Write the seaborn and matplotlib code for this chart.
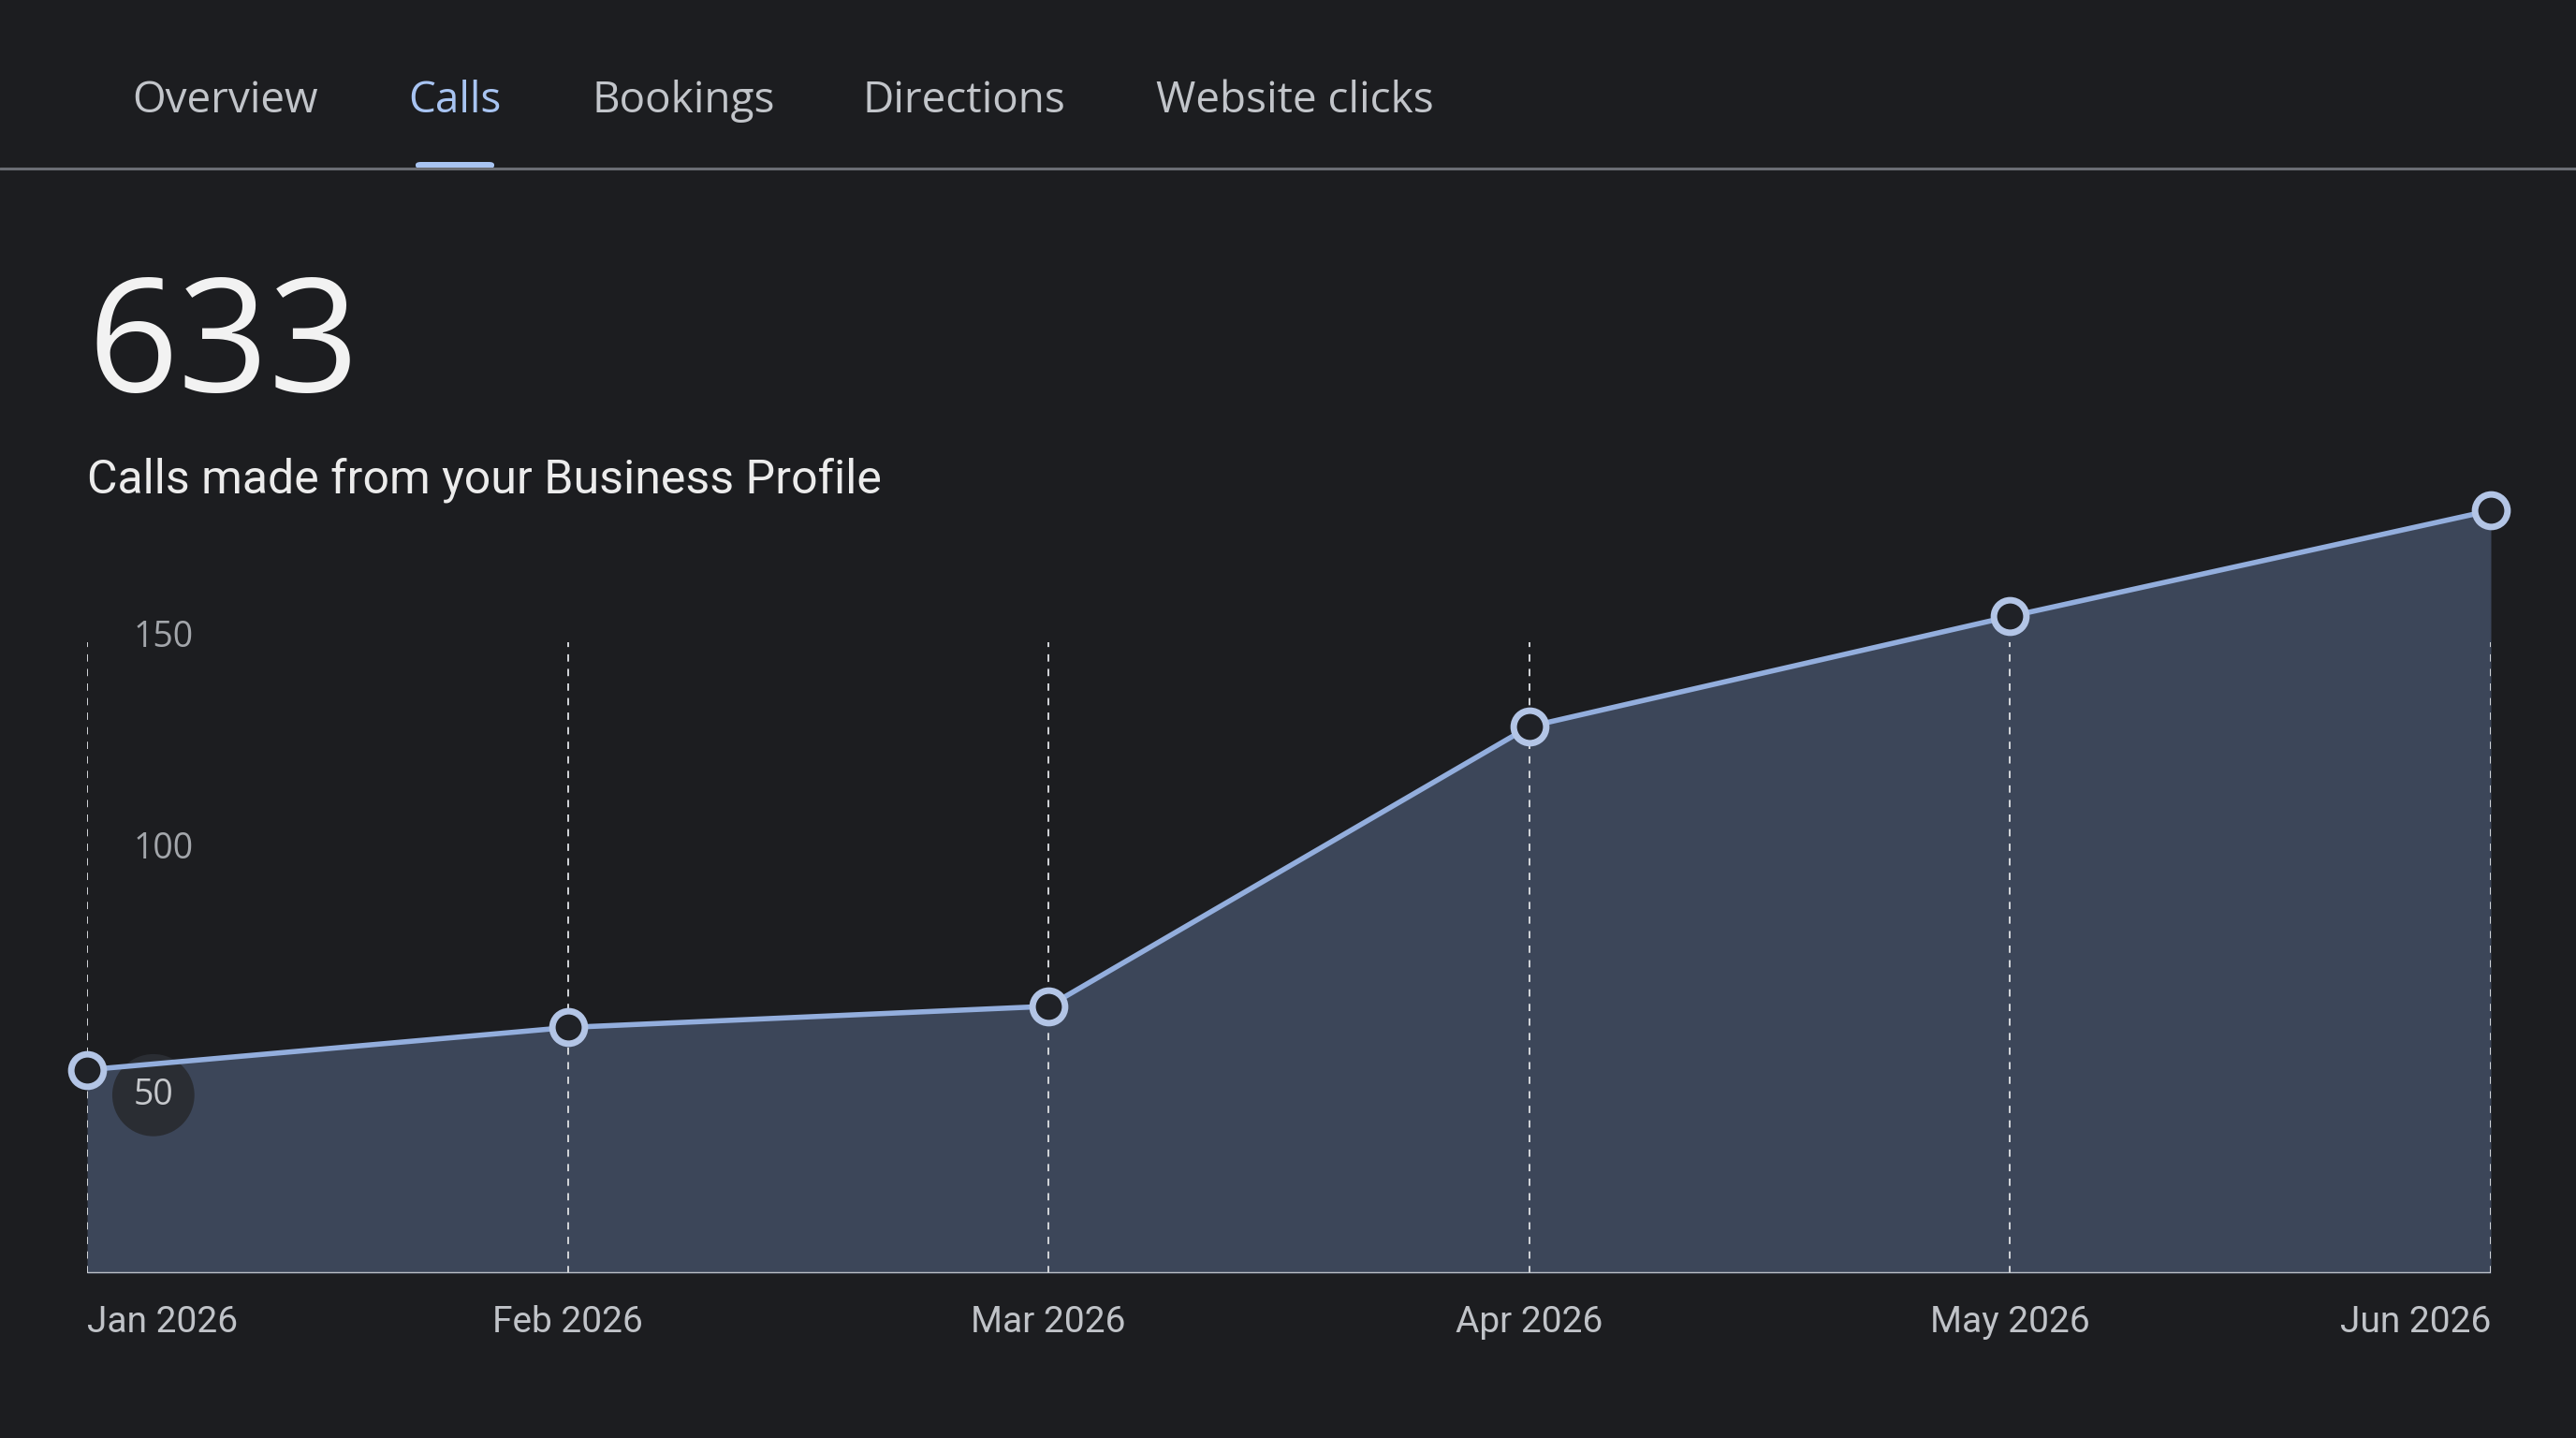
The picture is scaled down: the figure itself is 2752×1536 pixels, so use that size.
import numpy as np
import pandas as pd
import matplotlib.pyplot as plt
import seaborn as sns
from matplotlib.patches import FancyBboxPatch

# Data
months = ["Jan 2026", "Feb 2026", "Mar 2026", "Apr 2026", "May 2026", "Jun 2026"]
calls = [48, 58, 63, 129, 155, 180]
y_ticks = [50, 100, 150]
tabs = ["Overview", "Calls", "Bookings", "Directions", "Website clicks"]
tab_x = [240, 486, 730, 1030, 1383]  # centres in px
active_tab = "Calls"
total = sum(calls)

BG = "#1c1d20"
FILL = "#3c4659"
LINE = "#93aedd"
RING = "#b3c5e6"
GRID = "#d4d6da"

W, H = 2752, 1536
sns.set_theme(style="dark", rc={"figure.facecolor": BG, "axes.facecolor": BG,
                               "savefig.facecolor": BG})
plt.rcParams["font.family"] = ["Roboto", "DejaVu Sans"]

fig = plt.figure(figsize=(W / 100, H / 100), dpi=100)


def fx(x):
    return x / W


def fy(y):
    return 1 - y / H


# --- header tabs ---
for name, cx in zip(tabs, tab_x):
    col = "#a8c4f2" if name == active_tab else "#c2c5ca"
    fig.text(fx(cx), fy(108), name, ha="center", va="center", fontsize=33,
             color=col, family=["Open Sans", "DejaVu Sans"])
fig.add_artist(plt.Line2D([0, 1], [fy(180), fy(180)], color="#6a6d73", lw=2.2,
                          transform=fig.transFigure))
ia = tab_x[tabs.index(active_tab)]
fig.add_artist(FancyBboxPatch((fx(ia - 42), fy(180)), fx(84), 7 / H,
                              boxstyle="round,pad=0,rounding_size=0.002",
                              color="#a8c4f2", transform=fig.transFigure, lw=0))

# --- headline number and subtitle ---
fig.text(fx(93), fy(418), f"{total}", ha="left", va="baseline", fontsize=122,
         color="#f2f2f2", family=["Open Sans", "DejaVu Sans"])
fig.text(fx(93), fy(527), "Calls made from your Business Profile", ha="left",
         va="baseline", fontsize=36, color="#ececec")

# --- chart ---
ax = fig.add_axes([fx(93), 176 / H, fx(2661) - fx(93), 860 / H])
df = pd.DataFrame({"pos": np.arange(len(months)), "month": months, "calls": calls})

ax.fill_between(df["pos"], 0, df["calls"], color=FILL, lw=0, zorder=1)
ax.vlines(df["pos"], 0, 149, colors=GRID, linestyles=(0, (4, 4)), lw=1.4, zorder=2)
ax.axhline(0, color="#bfc3c9", lw=2.5, zorder=3)
sns.lineplot(data=df, x="pos", y="calls", ax=ax, color=LINE, lw=4, marker="o",
             markersize=25, markerfacecolor="#202227", markeredgecolor=RING,
             markeredgewidth=5, zorder=5, clip_on=False)

ax.set_xlim(0, len(months) - 1)
ax.set_ylim(0, 190)
ax.set_xticks([])
ax.set_yticks([])
ax.set_xlabel("")
ax.set_ylabel("")
for s in ax.spines.values():
    s.set_visible(False)

# y tick labels sit inside the plot
for v in y_ticks:
    if v == 50:
        ax.annotate(str(v), (0, v), xytext=(51, -26), textcoords="offset points",
                    ha="center", va="center", fontsize=27, color="#c6c8cc",
                    family=["Open Sans", "DejaVu Sans"], zorder=4,
                    bbox=dict(boxstyle="circle,pad=0.6", fc="#2a2d33", ec="none"))
    else:
        ax.annotate(str(v), (0, v), xytext=(36, 0), textcoords="offset points",
                    ha="left", va="center", fontsize=27, color="#a3a6ab",
                    family=["Open Sans", "DejaVu Sans"])

# x labels
for i, m in enumerate(months):
    ha = "left" if i == 0 else ("right" if i == len(months) - 1 else "center")
    ax.annotate(m, (i, 0), xytext=(0, -38), textcoords="offset points", ha=ha,
                va="center", fontsize=28, color="#c0c3c8", annotation_clip=False)

fig.savefig("out.png", dpi=100, facecolor=BG)
